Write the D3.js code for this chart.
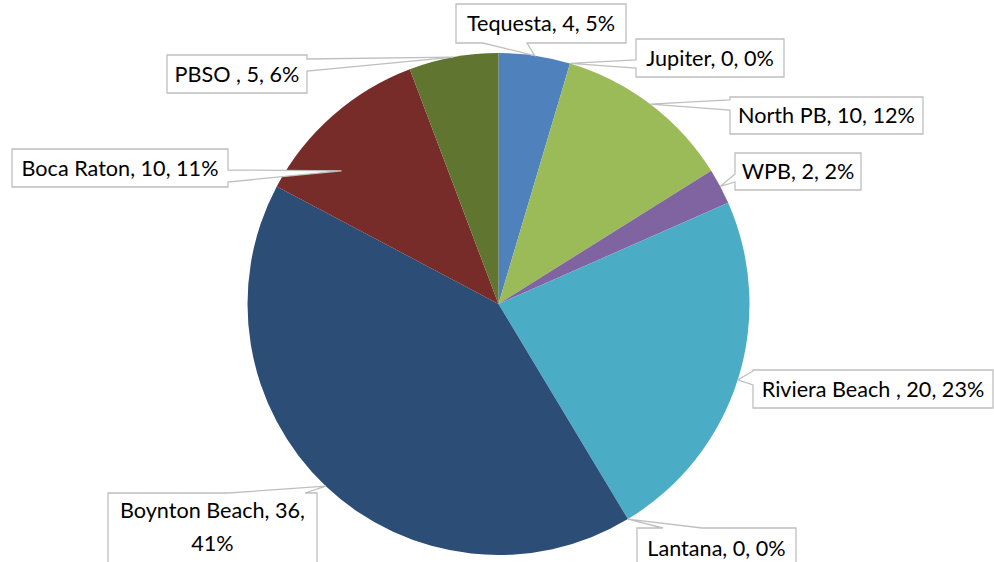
<!DOCTYPE html>
<html>
<head>
<meta charset="utf-8">
<script src="https://cdn.jsdelivr.net/npm/d3@7/dist/d3.min.js"></script>
<style>
  html, body { margin: 0; padding: 0; background: #fff; }
  svg { display: block; }
</style>
</head>
<body>
<svg id="chart" width="994" height="562"></svg>
<script>
// ---- data ----
const categories = ["Tequesta", "Jupiter", "North PB", "WPB", "Riviera Beach ", "Lantana", "Boynton Beach", "Boca Raton", "PBSO "];
const values = [4, 0, 10, 2, 20, 0, 36, 10, 5];
const percentLabels = ["5%", "0%", "12%", "2%", "23%", "0%", "41%", "11%", "6%"];
const colors = ["#4F81BD", "#C0504D", "#9BBB59", "#8064A2", "#4BACC6", "#F79646", "#2C4D75", "#772C2A", "#5F7530"];

// ---- layout (callout boxes) ----
// box: [x, y, w, h], side where the pointer leaves, base: [from, to] along that side
const calloutLayout = [
  { box: [456, 4, 170, 39],  side: "bottom", base: [483, 527] },
  { box: [636, 39, 148, 38], side: "left",   base: [60, 68] },
  { box: [730, 97, 193, 37], side: "left",   base: [100, 110] },
  { box: [735, 153, 126, 37], side: "left",  base: [174, 182] },
  { box: [753, 370, 240, 38], side: "left",  base: [371, 385] },
  { box: [637, 528, 159, 40], side: "top",   base: [663, 702] },
  { box: [108, 493, 209, 80], side: "top",   base: [228, 305], lines: 2 },
  { box: [12, 149, 216, 38], side: "right",  base: [170, 182], tipAngle: -8.3, tipR: 0.82 },
  { box: [167, 55, 140, 38], side: "right",  base: [59, 71] }
];

const svg = d3.select("#chart");
const cx = 498.5, cy = 304, R = 251;
const g = svg.append("g").attr("transform", `translate(${cx},${cy})`);

const pie = d3.pie().sort(null).value(d => d.value).startAngle(0).endAngle(2 * Math.PI);
const data = categories.map((c, i) => ({ name: c, value: values[i], pct: percentLabels[i], color: colors[i], layout: calloutLayout[i] }));
const arcs = pie(data);
const arc = d3.arc().innerRadius(0).outerRadius(R);

g.selectAll("path.slice")
  .data(arcs)
  .enter().append("path")
  .attr("class", "slice")
  .attr("d", arc)
  .attr("fill", d => d.data.color);

// font sizing: match reference width of a label
const fontFamily = "Lato, 'Noto Sans', sans-serif";
const probe = svg.append("text").attr("font-family", fontFamily).attr("font-size", 24).text("Boca Raton, 10, 11%");
const measured = probe.node().getComputedTextLength();
probe.remove();
const fs = 24 * 197 / measured;

function calloutPath(L, tip) {
  const [x, y, w, h] = L.box;
  const b = L.base;
  const p = [];
  p.push([x, y]);
  if (L.side === "top") { p.push([b[0], y], tip, [b[1], y]); }
  p.push([x + w, y]);
  if (L.side === "right") { p.push([x + w, b[0]], tip, [x + w, b[1]]); }
  p.push([x + w, y + h]);
  if (L.side === "bottom") { p.push([b[1], y + h], tip, [b[0], y + h]); }
  p.push([x, y + h]);
  if (L.side === "left") { p.push([x, b[1]], tip, [x, b[0]]); }
  return "M" + p.map(q => q.join(",")).join("L") + "Z";
}

const labels = svg.append("g");
arcs.forEach(a => {
  const L = a.data.layout;
  const mid = (a.startAngle + a.endAngle) / 2 + (L.tipAngle || 0) * Math.PI / 180;
  const r = R * (L.tipR || 1);
  const tip = [cx + r * Math.sin(mid), cy - r * Math.cos(mid)];
  labels.append("path")
    .attr("d", calloutPath(L, tip))
    .attr("fill", "#fff")
    .attr("stroke", "#BFBFBF")
    .attr("stroke-width", 1.3);
  const [x, y, w, h] = L.box;
  const full = `${a.data.name}, ${a.data.value}, ${a.data.pct}`;
  const t = labels.append("text")
    .attr("font-family", fontFamily)
    .attr("font-size", fs)
    .attr("fill", "#000")
    .attr("text-anchor", "middle");
  if (L.lines === 2) {
    const line1 = `${a.data.name}, ${a.data.value},`;
    const line2 = a.data.pct;
    t.append("tspan").attr("x", x + w / 2).attr("y", y + 25).text(line1);
    t.append("tspan").attr("x", x + w / 2).attr("y", y + 58).text(line2);
  } else {
    t.attr("x", x + w / 2).attr("y", y + h / 2 + fs * 0.37).text(full);
  }
});
</script>
</body>
</html>
